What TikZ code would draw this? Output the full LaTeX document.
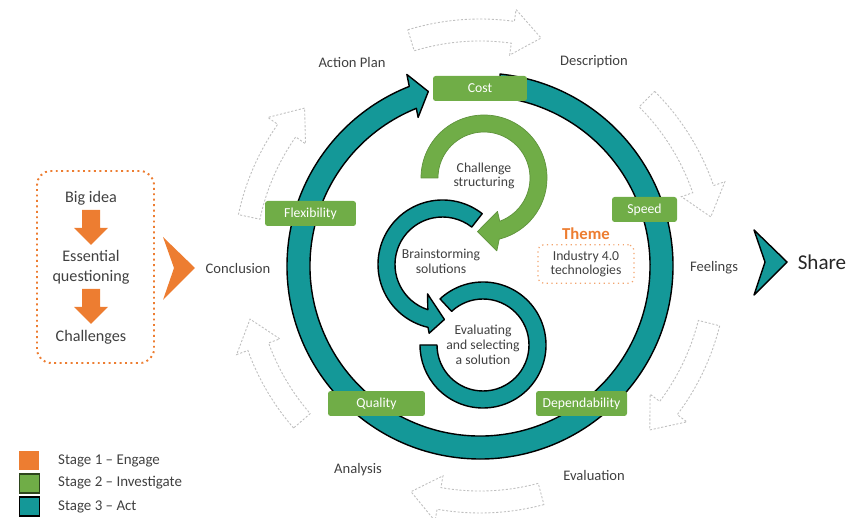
\documentclass[tikz,border=0pt]{standalone}
\usepackage{fontspec}
\setmainfont{Carlito}
\usepackage{tikz}

\definecolor{stageorange}{RGB}{237,125,49}
\definecolor{stagegreen}{RGB}{112,173,71}
\definecolor{stageteal}{RGB}{20,152,152}
\definecolor{txtgray}{RGB}{64,64,64}

\tikzset{
  lbl/.style={text=txtgray, font=\fontsize{8.3}{10}\selectfont},
  tag/.style={fill=stagegreen, text=white, rounded corners=1.5pt, minimum height=0.5cm,
    inner sep=0pt, font=\fontsize{7.8}{9}\selectfont},
  spiraltext/.style={text=txtgray, align=center, font=\fontsize{7.8}{8.4}\selectfont},
  bigtext/.style={text=txtgray, align=center, font=\fontsize{9.2}{11.2}\selectfont},
  legendtext/.style={text=txtgray, anchor=west, font=\fontsize{8.5}{10}\selectfont},
  tealshape/.style={fill=stageteal, draw=black, line width=0.8pt, line join=round},
  greenshape/.style={fill=stagegreen, draw=stagegreen!85!black, line width=0.4pt, line join=round},
  ghost/.style={fill=white, draw=gray!50, dash pattern=on 1.2pt off 1pt, line width=0.5pt},
}

% curved outline arrow on the outer circle, clockwise from #1 to #2
\newcommand{\ghostarrow}[2]{%
  \draw[ghost] (#1:247) arc[start angle=#1, end angle=#2+7, radius=247]
    -- ({#2+7}:259) -- (#2:236) -- ({#2+7}:213) -- ({#2+7}:225)
    arc[start angle=#2+7, end angle=#1, radius=225] -- cycle;}

\begin{document}
\begin{tikzpicture}[x=0.02cm, y=0.02cm]
  \useasboundingbox (0,0) rectangle (848,517);

  % outer ring of light arrows
  \begin{scope}[shift={(480,251)}]
    \ghostarrow{107}{75}
    \ghostarrow{45}{12}
    \ghostarrow{-14}{-44}
    \ghostarrow{-75}{-107}
    \ghostarrow{-139}{-167}
    \ghostarrow{168}{138}
  \end{scope}

  % big teal cycle
  \begin{scope}[shift={(480,251)}]
    \draw[tealshape] (84:193) arc[start angle=84, end angle=-248.5, radius=193]
      -- (-249.1:205) -- (-253.5:182) -- (-247.4:161) -- (-248:170)
      arc[start angle=-248, end angle=84, radius=170] -- cycle;
  \end{scope}

  % labels on the cycle
  \node[tag, minimum width=1.88cm] (cost) at (480,428.5) {Cost};
  \node[tag, minimum width=1.30cm] (speed) at (644.5,307.5) {Speed};
  \node[tag, minimum width=1.82cm] (dependability) at (581.5,113.5) {Dependability};
  \node[tag, minimum width=1.94cm] (quality) at (376.5,113.5) {Quality};
  \node[tag, minimum width=1.82cm] (flexibility) at (310.5,303.5) {Flexibility};

  % inner spiral: challenge structuring
  \begin{scope}[shift={(484,339)}]
    \draw[greenshape] (180:63) arc[start angle=180, end angle=-76, radius=63]
      -- (-80:74) -- (-97:54) -- (-68:36) -- (-70:46)
      arc[start angle=-70, end angle=180, radius=46] -- cycle;
  \end{scope}
  % brainstorming
  \begin{scope}[shift={(442.5,252.5)}]
    \draw[tealshape] (52:64.5) arc[start angle=52, end angle=257, radius=64.5]
      -- (259:70) -- (272:55) -- (243:33) -- (252:47.5)
      arc[start angle=252, end angle=52, radius=47.5] -- cycle;
  \end{scope}
  % evaluating
  \begin{scope}[shift={(483,172)}]
    \draw[tealshape] (133:63) arc[start angle=133, end angle=-180, radius=63]
      -- (-180:46) arc[start angle=-180, end angle=133, radius=46] -- cycle;
  \end{scope}

  \node[spiraltext] (structuring) at (484,341) {Challenge\\structuring};
  \node[spiraltext] (brainstorming) at (441,256) {Brainstorming\\solutions};
  \node[spiraltext] (evaluating) at (483,172) {Evaluating\\and selecting\\a solution};

  % theme
  \node[text=stageorange, font=\bfseries\fontsize{9.5}{11}\selectfont] (theme) at (586,283) {Theme};
  \node[spiraltext, draw=stageorange!70, dotted, line width=0.7pt, rounded corners=3pt,
    minimum width=1.92cm, minimum height=0.76cm] (industry) at (586,253) {Industry 4.0\\technologies};

  % stage labels round the cycle
  \node[lbl] (actionplan) at (352,455) {Action Plan};
  \node[lbl] (description) at (594,455) {Description};
  \node[lbl] (feelings) at (714,249) {Feelings};
  \node[lbl] (evaluation) at (594,42) {Evaluation};
  \node[lbl] (analysis) at (358,47) {Analysis};
  \node[lbl] (conclusion) at (238,249) {Conclusion};

  % engage box
  \draw[stageorange, dotted, line width=1.1pt, rounded corners=8pt] (37,154) rectangle (154,346);
  \node[bigtext] (bigidea) at (91,319) {Big idea};
  \node[bigtext] (essential) at (91,250) {Essential\\questioning};
  \node[bigtext] (challenges) at (91,180) {Challenges};
  \foreach \dy in {0,-79}
    \fill[stageorange, yshift=\dy*0.02cm] (82,307) -- (100,307) -- (100,289) -- (108,289)
      -- (91,272) -- (74,289) -- (82,289) -- cycle;
  \fill[stageorange] (163,280) -- (195,249) -- (163,217) -- (174,249) -- cycle;

  % share
  \draw[tealshape] (754,287) -- (787,255) -- (754,222) -- (765,255) -- cycle;
  \node[text=black!85, font=\fontsize{12}{14}\selectfont] (share) at (822,255) {Share};

  % legend
  \fill[stageorange] (19,47) rectangle (39,66);
  \draw[fill=stagegreen, draw=stagegreen!40!black, line width=0.6pt] (19.5,24) rectangle (39.5,43);
  \draw[fill=stageteal, draw=black, line width=1pt] (19.5,0.8) rectangle (39.5,20);
  \node[legendtext] (stage1) at (52,56) {Stage 1 -- Engage};
  \node[legendtext] (stage2) at (52,34) {Stage 2 -- Investigate};
  \node[legendtext] (stage3) at (52,10) {Stage 3 -- Act};
\end{tikzpicture}
\end{document}
